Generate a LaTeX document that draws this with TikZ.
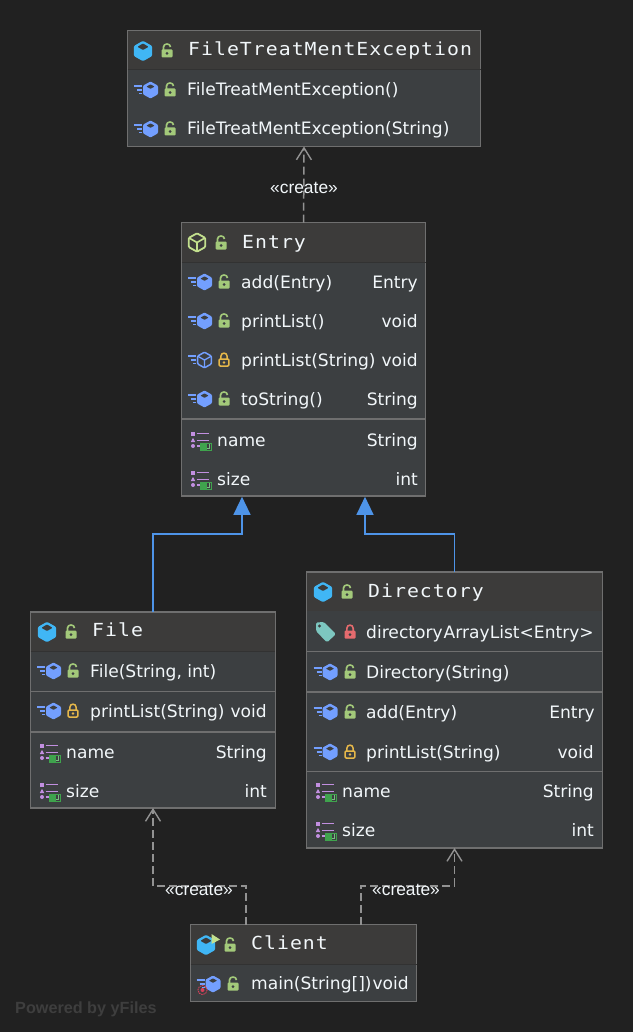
\documentclass[tikz,border=0pt]{standalone}
\usepackage{fontspec}
\setmainfont{DejaVu Sans}
\newfontfamily\titlefont[FakeStretch=1.1,LetterSpace=5.7]{DejaVu Sans Mono}
\newfontfamily\labelfont{Liberation Sans}
\usetikzlibrary{arrows.meta}
\definecolor{bgc}{HTML}{212121}
\definecolor{headc}{HTML}{3C3B3A}
\definecolor{bodyc}{HTML}{3C3F41}
\definecolor{edgec}{HTML}{6F6F6F}
\definecolor{sepc}{HTML}{323232}
\definecolor{txtc}{HTML}{F2F7FA}
\definecolor{linec}{HTML}{929292}
\definecolor{bluec}{HTML}{4E94E8}
\definecolor{cubec}{HTML}{40B6F5}
\definecolor{methc}{HTML}{739FFF}
\definecolor{greenl}{HTML}{A3C97A}
\definecolor{yelll}{HTML}{E6B84A}
\definecolor{redl}{HTML}{E56B6E}
\definecolor{purp}{HTML}{C28FE0}
\definecolor{bookc}{HTML}{3FA34D}
\definecolor{tagc}{HTML}{7DC7C0}
\definecolor{ifacec}{HTML}{C3E08E}
\definecolor{markc}{HTML}{3E3E3E}
\definecolor{mainc}{HTML}{D6405A}
\tikzset{
  x=1pt,y=-1pt,
  classbox/.style={draw=edgec,line width=1.4pt,fill=bodyc,inner sep=0pt,outer sep=0pt,anchor=north west},
  title/.style={anchor=base west,inner sep=0pt,text=txtc,font=\titlefont\fontsize{18}{20}\selectfont},
  row/.style={anchor=base west,inner sep=0pt,text=txtc,font=\fontsize{17.1}{20}\selectfont},
  rowtype/.style={anchor=base east,inner sep=0pt,text=txtc,font=\fontsize{17.1}{20}\selectfont},
  stereo/.style={inner sep=0pt,text=txtc,font=\labelfont\fontsize{17.4}{20}\selectfont},
  thinsep/.style={draw=edgec,line width=1pt},
  thicksep/.style={draw=edgec,line width=2pt},
  headsep/.style={draw=sepc,line width=1pt},
  create/.style={draw=linec,line width=1.5pt,dash pattern=on 8pt off 4pt,-{Straight Barb[length=12pt,width=15pt,line width=1.4pt]}},
  inherit/.style={draw=bluec,line width=1.2pt,-{Triangle[length=18pt,width=17pt,fill=bluec]}},
  pics/lockopen/.style={code={
    \draw[greenl,line width=1.6pt] (-3.5,0) -- (-3.5,-4) .. controls (-3.5,-8) and (3.5,-8) .. (3.5,-4);
    \fill[greenl,rounded corners=1pt] (-5.5,-1.5) rectangle (5.5,6.5);
    \fill[bodyc] (0,2.5) circle[radius=1.5];}},
  pics/lockyellow/.style={code={
    \draw[yelll,line width=1.5pt] (-3.2,-1) -- (-3.2,-3.5) .. controls (-3.2,-8) and (3.2,-8) .. (3.2,-3.5) -- (3.2,-1);
    \draw[yelll,line width=1.5pt,rounded corners=1pt] (-4.8,-1) rectangle (4.8,6);
    \fill[yelll] (0,2.5) circle[radius=1.4];}},
  pics/lockred/.style={code={
    \draw[redl,line width=1.6pt] (-3.2,-1) -- (-3.2,-3.5) .. controls (-3.2,-8) and (3.2,-8) .. (3.2,-3.5) -- (3.2,-1);
    \fill[redl,rounded corners=1pt] (-5.5,-1.5) rectangle (5.5,6.5);
    \fill[bodyc] (0,2.5) circle[radius=1.5];}},
  pics/cube/.style={code={
    \fill[cubec,rounded corners=1.2pt] (0,-10.2) -- (9.2,-5) -- (9.2,5) -- (0,10.2) -- (-9.2,5) -- (-9.2,-5) -- cycle;
    \fill[headc,rounded corners=.8pt] (0,-7.5) -- (5.6,-4.2) -- (0,-1) -- (-5.6,-4.2) -- cycle;}},
  pics/iface/.style={code={
    \draw[ifacec,line width=1.8pt,rounded corners=1pt] (0,-9.2) -- (8.2,-4.6) -- (8.2,4.6) -- (0,9.2) -- (-8.2,4.6) -- (-8.2,-4.6) -- cycle;
    \draw[ifacec,line width=1.6pt] (-8,-4.6) -- (0,0) -- (8,-4.6) (0,0) -- (0,9);}},
  pics/bars/.style={code={
    \draw[methc,line width=1.4pt] (-16.5,-4) -- (-8.5,-4) (-13.5,0) -- (-8.5,0) (-11.5,3.5) -- (-8.5,3.5);}},
  pics/meth/.style={code={
    \pic {bars};
    \fill[methc,rounded corners=1pt] (0,-8.5) -- (7.5,-4.3) -- (7.5,4.3) -- (0,8.5) -- (-7.5,4.3) -- (-7.5,-4.3) -- cycle;
    \fill[bodyc,rounded corners=.5pt] (0,-5.6) -- (4,-3.4) -- (0,-1.2) -- (-4,-3.4) -- cycle;}},
  pics/methabs/.style={code={
    \pic {bars};
    \draw[methc,line width=1.5pt,rounded corners=1pt] (0,-7.8) -- (6.9,-3.9) -- (6.9,3.9) -- (0,7.8) -- (-6.9,3.9) -- (-6.9,-3.9) -- cycle;
    \draw[methc,line width=1.3pt] (-6.5,-3.7) -- (0,0) -- (6.5,-3.7) (0,0) -- (0,7.5);}},
  pics/field/.style={code={
    \fill[purp] (-26,-8.5) rectangle (-22,-4.5);
    \fill[purp] (-26.2,2) -- (-24,-2.2) -- (-21.8,2) -- cycle;
    \fill[purp] (-24,6) circle[radius=2];
    \draw[purp,line width=1.8pt] (-20.5,-6.5) -- (-8,-6.5) (-20.5,.5) -- (-8,.5) (-20.5,6) -- (-14,6);
    \fill[bookc] (-17,3) rectangle (-10.5,11);
    \draw[bookc,line width=1pt] (-10.5,3.5) rectangle (-5.5,10.5);
    \draw[bookc!70!white,line width=.8pt] (-8,3.5) -- (-8,8) -- (-10,8);}},
  pics/tag/.style={code={
    \fill[tagc,rounded corners=1.5pt] (-10,-9.5) -- (-2,-10) -- (10,2) -- (1,10.5) -- (-10,-1) -- cycle;
    \fill[bodyc] (-6.5,-6) circle[radius=1.6];}},
  pics/mainmark/.style={code={
    \draw[mainc,line width=.9pt,dash pattern=on 1.5pt off .8pt] (0,0) circle[radius=4.6];
    \fill[mainc] (0,0) circle[radius=2];}},
  pics/arrowhead/.style={code={
    \fill[ifacec] (0,-5.5) -- (8.5,0) -- (0,4.5) -- cycle;}},
}
\newcommand{\classframe}[6]{%
  \node[classbox,minimum width=#4pt-#2pt,minimum height=#5pt-#3pt] (#1) at (#2,#3) {};
  \fill[headc] (#2,#3) rectangle (#4,#6);
  \draw[edgec,line width=1.4pt] (#1.north west) rectangle (#1.south east);
}
\begin{document}
\begin{tikzpicture}
\useasboundingbox (0,0) rectangle (633,1032);
\fill[bgc] (0,0) rectangle (633,1032);

% FileTreatMentException
\classframe{fte}{127.5}{30.5}{480.5}{146.5}{70}
\draw[headsep] (fte.west |- 0,70) -- (fte.east |- 0,70);
\pic at (143,51) {cube};
\pic at (167,51) {lockopen};
\node[title] (ftetitle) at (188,55.7) {FileTreatMentException};
\pic at (150.5,90) {meth};
\pic at (170,90) {lockopen};
\node[row] (fter1) at (187,96) {FileTreatMentException()};
\pic at (150.5,129) {meth};
\pic at (170,129) {lockopen};
\node[row] (fter2) at (187,135) {FileTreatMentException(String)};

% Entry
\classframe{entry}{181.5}{222.7}{425.7}{496}{262}
\draw[headsep] (entry.west |- 0,262) -- (entry.east |- 0,262);
\draw[thicksep] (entry.west |- 0,419) -- (entry.east |- 0,419);
\pic at (197,242.5) {iface};
\pic at (221,243) {lockopen};
\node[title] (entrytitle) at (242,248) {Entry};
\pic at (204.5,282) {meth};
\pic at (224,282) {lockopen};
\node[row] (e1) at (241,288) {add(Entry)};
\node[rowtype] (e1t) at (418,288) {Entry};
\pic at (204.5,321) {meth};
\pic at (224,321) {lockopen};
\node[row] (e2) at (241,327) {printList()};
\node[rowtype] (e2t) at (418,327) {void};
\pic at (204.5,360) {methabs};
\pic at (224,360) {lockyellow};
\node[row] (e3) at (241,366) {printList(String)};
\node[rowtype] (e3t) at (418,366) {void};
\pic at (204.5,399) {meth};
\pic at (224,399) {lockopen};
\node[row] (e4) at (241,405) {toString()};
\node[rowtype] (e4t) at (418,405) {String};
\pic at (217,440) {field};
\node[row] (e5) at (217,446) {name};
\node[rowtype] (e5t) at (418,446) {String};
\pic at (217,479) {field};
\node[row] (e6) at (217,485) {size};
\node[rowtype] (e6t) at (418,485) {int};

% File
\classframe{file}{30.7}{612}{275.3}{808}{651}
\draw[headsep] (file.west |- 0,651) -- (file.east |- 0,651);
\draw[thinsep] (file.west |- 0,691) -- (file.east |- 0,691);
\draw[thicksep] (file.west |- 0,732) -- (file.east |- 0,732);
\pic at (47,632) {cube};
\pic at (71,632) {lockopen};
\node[title] (filetitle) at (92,636) {File};
\pic at (53.5,671) {meth};
\pic at (73,671) {lockopen};
\node[row] (f1) at (90,677) {File(String, int)};
\pic at (53.5,711) {meth};
\pic at (73,711) {lockyellow};
\node[row] (f2) at (90,717) {printList(String)};
\node[rowtype] (f2t) at (267,717) {void};
\pic at (66,752) {field};
\node[row] (f3) at (66,758) {name};
\node[rowtype] (f3t) at (267,758) {String};
\pic at (66,791) {field};
\node[row] (f4) at (66,797) {size};
\node[rowtype] (f4t) at (267,797) {int};

% Directory
\classframe{dir}{306.7}{572}{602.3}{848}{611}
\draw[thinsep] (dir.west |- 0,651.3) -- (dir.east |- 0,651.3);
\draw[thicksep] (dir.west |- 0,691.7) -- (dir.east |- 0,691.7);
\draw[thinsep] (dir.west |- 0,771) -- (dir.east |- 0,771);
\pic at (323,592) {cube};
\pic at (347,592) {lockopen};
\node[title] (dirtitle) at (368,597) {Directory};
\pic at (326,632) {tag};
\pic at (350,632) {lockred};
\node[row] (d0) at (366,638) {directory};
\node[rowtype] (d0t) at (594,638) {ArrayList<Entry>};
\pic at (330,672) {meth};
\pic at (350,672) {lockopen};
\node[row] (d1) at (366,678) {Directory(String)};
\pic at (330,712) {meth};
\pic at (350,712) {lockopen};
\node[row] (d2) at (366,718) {add(Entry)};
\node[rowtype] (d2t) at (595,718) {Entry};
\pic at (330,752) {meth};
\pic at (350,752) {lockyellow};
\node[row] (d3) at (366,758) {printList(String)};
\node[rowtype] (d3t) at (594,758) {void};
\pic at (342,791) {field};
\node[row] (d4) at (342,797) {name};
\node[rowtype] (d4t) at (594,797) {String};
\pic at (342,830) {field};
\node[row] (d5) at (342,836) {size};
\node[rowtype] (d5t) at (594,836) {int};

% Client
\classframe{client}{190.5}{924.7}{416.5}{1001.3}{964.7}
\draw[headsep] (client.west |- 0,964.7) -- (client.east |- 0,964.7);
\pic at (206,945) {cube};
\pic at (211.5,939.5) {arrowhead};
\pic at (230,945) {lockopen};
\node[title] (clienttitle) at (251,949) {Client};
\pic at (213,984) {meth};
\pic at (202.5,990) {mainmark};
\pic at (233,984) {lockopen};
\node[row] (c1) at (251,989) {main(String[])};
\node[rowtype] (c1t) at (409,989) {void};

% connectors
\coordinate (entryleft) at (242,496.8);
\coordinate (entryright) at (365,496.8);
\coordinate (clientleft) at (246,924.7);
\coordinate (clientright) at (361,924.7);
\draw[create] (entry.north) -- (fte.south);
\draw[inherit] (file.north) |- (153,534) -| (entryleft);
\draw[inherit] (dir.north) |- (454.5,534) -| (entryright);
\draw[create] (clientleft) |- (153,886) -- (file.south);
\draw[create] (clientright) |- (454.5,886) -- (dir.south);

\node[stereo] (l1) at (304,188) {«create»};
\node[stereo] (l2) at (199,890) {«create»};
\node[stereo] (l3) at (406,890) {«create»};

\node[anchor=base west,inner sep=0pt,text=markc,font=\labelfont\bfseries\fontsize{16.2}{20}\selectfont] (mark) at (15,1013.5) {Powered by yFiles};
\end{tikzpicture}
\end{document}
